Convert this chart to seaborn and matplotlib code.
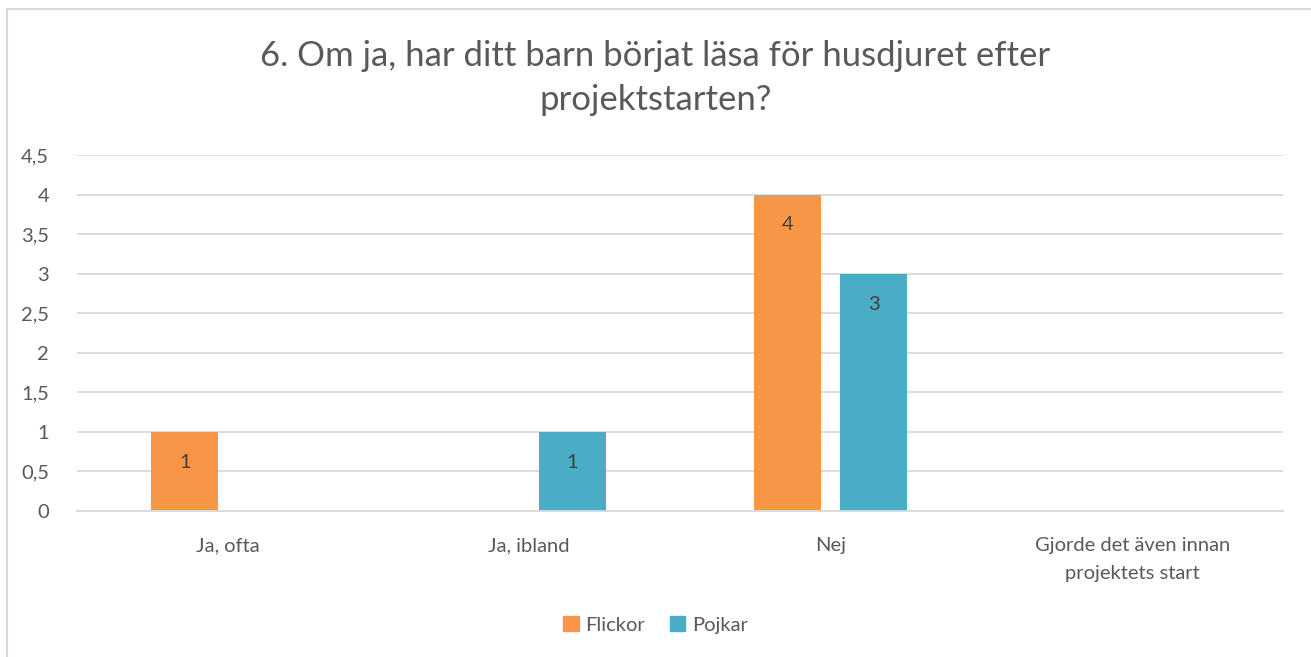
import matplotlib
matplotlib.use("Agg")
import matplotlib.pyplot as plt
import matplotlib.patches as mpatches
import numpy as np
import pandas as pd
import seaborn as sns

CATEGORIES = ["Ja, ofta", "Ja, ibland", "Nej", "Gjorde det även innan\nprojektets start"]
FLICKOR = [1, 0, 4, 0]
POJKAR = [0, 1, 3, 0]
SERIES = ["Flickor", "Pojkar"]
COLORS = ["#F79646", "#4BACC6"]
YTICKS = [0, 0.5, 1, 1.5, 2, 2.5, 3, 3.5, 4, 4.5]
TITLE = "6. Om ja, har ditt barn börjat läsa för husdjuret efter\nprojektstarten?"

TEXT = "#595959"
GRID = "#D9D9D9"

sns.set_style("white")
plt.rcParams["font.family"] = ["Lato", "DejaVu Sans"]

df = pd.DataFrame({
    "kategori": CATEGORIES * 2,
    "serie": [SERIES[0]] * len(CATEGORIES) + [SERIES[1]] * len(CATEGORIES),
    "antal": FLICKOR + POJKAR,
})

fig = plt.figure(figsize=(13.11, 6.57), dpi=100)
ax = fig.add_axes([77 / 1311, 1 - 511 / 657, (1283 - 77) / 1311, (511 - 155) / 657])

sns.barplot(data=df, x="kategori", y="antal", hue="serie", palette=COLORS,
            width=0.57, gap=0.22, saturation=1, linewidth=0, ax=ax, legend=True)

ax.set_ylim(0, 4.5)
ax.set_yticks(YTICKS)
ax.set_yticklabels([f"{v:g}".replace(".", ",") for v in YTICKS])
ax.set_xlim(-0.5, len(CATEGORIES) - 0.5)
ax.yaxis.grid(True, color=GRID, linewidth=1.3)
ax.set_axisbelow(True)
for side in ["left", "right", "top"]:
    ax.spines[side].set_visible(False)
ax.spines["bottom"].set_color(GRID)
ax.spines["bottom"].set_linewidth(1.3)
ax.tick_params(axis="both", length=0, colors=TEXT, labelsize=14.5)
ax.tick_params(axis="y", pad=20)
for lbl in ax.get_xticklabels():
    lbl.set_linespacing(1.75)
ax.tick_params(axis="x", pad=19)
ax.set_xlabel("")
ax.set_ylabel("")

for container, vals in zip(ax.containers, [FLICKOR, POJKAR]):
    labels = [str(v) if v else "" for v in vals]
    ax.bar_label(container, labels=labels, label_type="edge", padding=-28,
                 color="#404040", fontsize=14.5)

ax.legend(handles=[mpatches.Patch(color=c, label=s) for s, c in zip(SERIES, COLORS)],
          loc="center", bbox_to_anchor=(0.5, (657 - 625) / 657), bbox_transform=fig.transFigure,
          ncol=2, frameon=False, fontsize=14.5, handlelength=0.75, handleheight=0.75,
          handletextpad=0.35, columnspacing=1.2, labelcolor=TEXT)

fig.suptitle(TITLE, y=1 - 40 / 657, va="top", fontsize=25, color=TEXT, linespacing=1.45)

fig.patches.append(mpatches.Rectangle((7 / 1311, -0.1), 1.2, 1 - 9 / 657 + 0.1,
                                      transform=fig.transFigure, fill=False,
                                      edgecolor=GRID, linewidth=1.5))

fig.savefig("out.png", dpi=100)
